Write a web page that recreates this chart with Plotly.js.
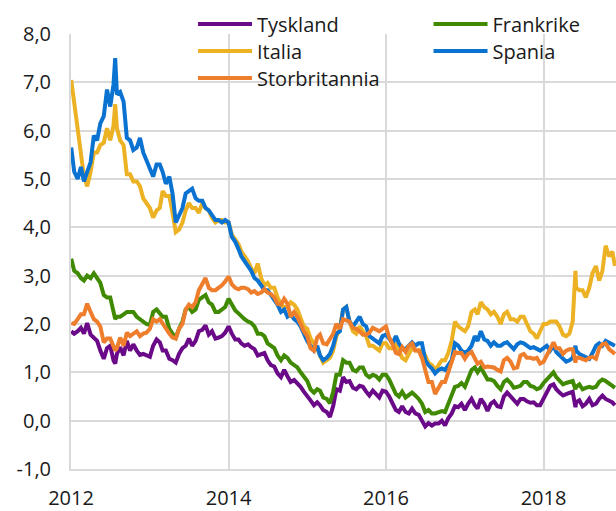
<!DOCTYPE html>
<html><head><meta charset="utf-8">
<script src="https://cdn.plot.ly/plotly-3.0.1.min.js"></script>
<style>html,body{margin:0;padding:0;background:#fff;} #chart{width:616px;height:511px;}</style>
</head><body><div id="chart"></div>
<script>
const dates = [
 '2012-01-02','2012-01-16','2012-02-01','2012-02-16','2012-03-01','2012-03-16','2012-04-01','2012-04-16','2012-05-01','2012-05-16','2012-06-01','2012-06-16','2012-07-01','2012-07-16','2012-07-24','2012-08-01','2012-08-16','2012-09-01','2012-09-16','2012-10-01','2012-10-16','2012-11-01','2012-11-16','2012-12-01','2012-12-16',
 '2013-01-01','2013-01-16','2013-02-01','2013-02-16','2013-03-01','2013-03-16','2013-04-01','2013-04-16','2013-05-01','2013-05-16','2013-06-01','2013-06-16','2013-07-01','2013-07-16','2013-08-01','2013-08-16','2013-09-01','2013-09-16','2013-10-01','2013-10-16','2013-11-01','2013-11-16','2013-12-01','2013-12-16',
 '2014-01-01','2014-01-16','2014-02-01','2014-02-16','2014-03-01','2014-03-16','2014-04-01','2014-04-16','2014-05-01','2014-05-16','2014-06-01','2014-06-16','2014-07-01','2014-07-16','2014-08-01','2014-08-16','2014-09-01','2014-09-16','2014-10-01','2014-10-16','2014-11-01','2014-11-16','2014-12-01','2014-12-16',
 '2015-01-01','2015-01-16','2015-02-01','2015-02-16','2015-03-01','2015-03-16','2015-04-01','2015-04-16','2015-05-01','2015-05-16','2015-06-01','2015-06-16','2015-07-01','2015-07-16','2015-08-01','2015-08-16','2015-09-01','2015-09-16','2015-10-01','2015-10-16','2015-11-01','2015-11-16','2015-12-01','2015-12-16',
 '2016-01-01','2016-01-16','2016-02-01','2016-02-16','2016-03-01','2016-03-16','2016-04-01','2016-04-16','2016-05-01','2016-05-16','2016-06-01','2016-06-16','2016-07-01','2016-07-16','2016-08-01','2016-08-16','2016-09-01','2016-09-16','2016-10-01','2016-10-16','2016-11-01','2016-11-16','2016-12-01','2016-12-16',
 '2017-01-01','2017-01-16','2017-02-01','2017-02-16','2017-03-01','2017-03-16','2017-04-01','2017-04-16','2017-05-01','2017-05-16','2017-06-01','2017-06-16','2017-07-01','2017-07-16','2017-08-01','2017-08-16','2017-09-01','2017-09-16','2017-10-01','2017-10-16','2017-11-01','2017-11-16','2017-12-01','2017-12-16',
 '2018-01-01','2018-01-16','2018-02-01','2018-02-16','2018-03-01','2018-03-16','2018-04-01','2018-04-16','2018-05-01','2018-05-16','2018-05-29','2018-06-01','2018-06-16','2018-07-01','2018-07-16','2018-08-01','2018-08-16','2018-09-01','2018-09-16','2018-10-01','2018-10-16','2018-11-01','2018-11-16','2018-11-28'
];

const tyskland = [
 1.85,1.80,1.85,1.92,1.80,2.02,1.78,1.70,1.65,1.45,1.28,1.50,1.55,1.25,1.18,1.38,1.52,1.35,1.65,1.45,1.58,1.45,1.36,1.38,1.35,
 1.32,1.55,1.68,1.62,1.45,1.45,1.28,1.25,1.20,1.38,1.50,1.55,1.70,1.55,1.65,1.85,1.88,1.97,1.78,1.85,1.70,1.72,1.75,1.82,
 1.95,1.80,1.68,1.68,1.60,1.55,1.58,1.52,1.48,1.35,1.38,1.40,1.25,1.15,1.12,0.98,0.90,1.05,0.92,0.80,0.84,0.78,0.70,0.60,
 0.52,0.42,0.32,0.38,0.32,0.22,0.18,0.08,0.30,0.65,0.62,0.90,0.80,0.82,0.68,0.65,0.72,0.70,0.60,0.52,0.62,0.55,0.48,0.62,
 0.60,0.50,0.35,0.22,0.18,0.30,0.18,0.15,0.25,0.15,0.12,0.00,-0.12,-0.05,-0.10,-0.06,-0.06,0.00,-0.10,0.05,0.15,0.30,0.28,0.35,
 0.22,0.35,0.45,0.32,0.25,0.45,0.35,0.20,0.35,0.40,0.30,0.28,0.50,0.58,0.50,0.42,0.35,0.45,0.45,0.40,0.37,0.38,0.32,0.32,
 0.45,0.58,0.72,0.75,0.65,0.58,0.52,0.55,0.58,0.60,0.28,0.38,0.42,0.30,0.35,0.45,0.32,0.35,0.45,0.52,0.45,0.42,0.38,0.32
];
const frankrike = [
 3.35,3.10,3.05,2.95,2.90,3.00,2.95,3.05,2.95,2.85,2.60,2.55,2.55,2.20,2.10,2.15,2.15,2.20,2.25,2.25,2.25,2.15,2.10,2.05,2.00,
 1.98,2.25,2.30,2.20,2.15,2.15,1.90,1.80,1.72,1.90,2.05,2.30,2.35,2.25,2.30,2.50,2.55,2.60,2.45,2.40,2.25,2.25,2.30,2.35,
 2.52,2.40,2.28,2.22,2.15,2.10,2.05,2.02,1.95,1.80,1.80,1.75,1.60,1.55,1.50,1.35,1.25,1.35,1.30,1.20,1.15,1.10,1.00,0.92,
 0.82,0.65,0.58,0.65,0.62,0.48,0.45,0.36,0.60,0.95,0.95,1.25,1.20,1.20,1.05,1.02,1.10,1.10,0.95,0.90,0.95,0.92,0.85,0.95,
 0.95,0.85,0.68,0.55,0.50,0.60,0.48,0.52,0.58,0.52,0.45,0.35,0.18,0.22,0.15,0.15,0.18,0.20,0.18,0.35,0.48,0.70,0.72,0.78,
 0.70,0.88,1.05,1.10,1.00,1.10,0.95,0.85,0.85,0.82,0.72,0.65,0.80,0.85,0.78,0.68,0.70,0.72,0.80,0.80,0.72,0.70,0.65,0.68,
 0.78,0.85,0.95,1.00,0.90,0.82,0.75,0.78,0.80,0.82,0.65,0.70,0.75,0.65,0.68,0.70,0.68,0.70,0.80,0.85,0.82,0.78,0.72,0.68
];
const italia = [
 7.05,6.55,5.95,5.55,5.05,4.85,5.15,5.55,5.55,5.70,5.75,6.05,5.80,6.10,6.55,6.05,5.80,5.70,5.10,5.10,4.95,4.95,4.85,4.60,4.50,
 4.40,4.20,4.35,4.40,4.75,4.65,4.65,4.30,3.90,3.95,4.10,4.35,4.50,4.40,4.40,4.30,4.50,4.40,4.35,4.20,4.10,4.15,4.15,4.10,
 4.10,3.85,3.75,3.65,3.50,3.40,3.30,3.15,3.05,3.25,2.95,2.80,2.85,2.75,2.75,2.55,2.40,2.35,2.35,2.45,2.40,2.30,2.10,1.95,
 1.90,1.70,1.60,1.50,1.35,1.20,1.25,1.30,1.45,1.75,1.90,2.30,2.35,2.05,1.85,1.80,1.95,1.85,1.75,1.55,1.55,1.50,1.45,1.60,
 1.60,1.50,1.50,1.60,1.45,1.30,1.25,1.40,1.50,1.45,1.45,1.45,1.35,1.20,1.15,1.05,1.15,1.25,1.25,1.40,1.65,2.05,1.95,1.90,
 1.85,1.95,2.25,2.30,2.20,2.45,2.35,2.30,2.20,2.25,2.15,2.00,2.20,2.25,2.10,2.10,2.05,2.15,2.15,2.00,1.85,1.80,1.70,1.85,
 2.00,2.00,2.05,2.05,2.05,1.95,1.78,1.75,1.80,2.05,3.10,2.75,2.70,2.70,2.55,2.75,3.05,3.20,2.90,3.10,3.62,3.40,3.50,3.20
];
const spania = [
 5.65,5.15,5.00,5.25,4.95,5.15,5.35,5.90,5.80,6.15,6.30,6.85,6.50,6.95,7.50,6.75,6.80,6.60,5.85,5.80,5.60,5.65,5.85,5.55,5.40,
 5.25,5.05,5.30,5.30,5.15,4.90,5.05,4.70,4.10,4.25,4.40,4.70,4.75,4.80,4.60,4.55,4.55,4.40,4.35,4.25,4.15,4.15,4.10,4.15,
 4.10,3.80,3.70,3.55,3.40,3.30,3.20,3.10,2.95,2.90,2.80,2.70,2.70,2.60,2.50,2.40,2.25,2.30,2.15,2.20,2.10,2.05,1.95,1.80,
 1.65,1.55,1.45,1.55,1.35,1.25,1.30,1.38,1.55,1.80,1.85,2.30,2.35,2.05,1.95,2.05,2.15,2.00,1.95,1.75,1.70,1.65,1.60,1.75,
 1.78,1.70,1.60,1.75,1.60,1.50,1.48,1.55,1.62,1.55,1.60,1.60,1.25,1.15,1.08,0.98,1.05,1.08,1.05,1.15,1.25,1.60,1.55,1.45,
 1.40,1.45,1.55,1.75,1.65,1.85,1.68,1.65,1.55,1.62,1.55,1.55,1.60,1.62,1.55,1.48,1.58,1.62,1.60,1.55,1.50,1.52,1.48,1.45,
 1.50,1.55,1.45,1.55,1.42,1.35,1.28,1.22,1.25,1.30,1.55,1.45,1.38,1.35,1.30,1.28,1.40,1.55,1.60,1.55,1.65,1.62,1.58,1.55
];
const storbritannia = [
 2.02,2.00,2.10,2.20,2.20,2.42,2.25,2.10,2.05,1.95,1.62,1.70,1.70,1.52,1.45,1.50,1.72,1.55,1.82,1.75,1.80,1.85,1.75,1.80,1.82,
 1.90,2.10,2.05,2.10,2.00,1.92,1.80,1.72,1.70,1.90,2.00,2.30,2.40,2.35,2.45,2.70,2.85,2.95,2.75,2.70,2.70,2.75,2.80,2.88,
 2.98,2.82,2.75,2.72,2.75,2.75,2.72,2.65,2.68,2.62,2.65,2.72,2.65,2.62,2.55,2.42,2.40,2.52,2.42,2.15,2.25,2.15,2.00,1.85,
 1.75,1.50,1.45,1.72,1.78,1.60,1.58,1.68,1.80,2.00,1.90,2.10,2.08,2.05,1.92,1.90,1.85,1.78,1.78,1.82,1.92,1.88,1.85,1.90,
 1.95,1.72,1.58,1.40,1.38,1.52,1.42,1.55,1.60,1.45,1.45,1.30,1.05,0.80,0.80,0.55,0.68,0.80,0.80,1.02,1.25,1.42,1.40,1.40,
 1.28,1.38,1.42,1.28,1.18,1.22,1.10,1.12,1.10,1.10,1.05,1.02,1.25,1.30,1.22,1.08,1.10,1.35,1.38,1.30,1.30,1.28,1.30,1.18,
 1.22,1.35,1.50,1.62,1.50,1.50,1.38,1.45,1.48,1.48,1.20,1.30,1.30,1.28,1.25,1.30,1.32,1.28,1.50,1.58,1.60,1.48,1.42,1.38
];

const seriesNames = ['Tyskland','Frankrike','Italia','Spania','Storbritannia'];
const seriesValues = [tyskland, frankrike, italia, spania, storbritannia];
const seriesColors = ['#6a0a88','#3f8a00','#ecb224','#0a72d0','#ee7d2c'];

const yTickVals = [-1,0,1,2,3,4,5,6,7,8];
const yTickText = ['-1,0','0,0','1,0','2,0','3,0','4,0','5,0','6,0','7,0','8,0'];
const xTickVals = ['2012-01-01','2014-01-01','2016-01-01','2018-01-01'];
const xTickText = ['2012','2014','2016','2018'];

// legend layout: one legend box per entry, in a two-column grid
const legendIds = ['legend','legend2','legend3','legend4','legend5'];
const legendCol = [0, 1, 0, 1, 0];
const legendRow = [0, 0, 1, 1, 2];
const colX = [0.2239, 0.6560];
const rowY = [1.0230, 0.9609, 0.8988];

const traces = seriesNames.map((name, i) => ({
  type: 'scatter', mode: 'lines', name: name,
  x: dates, y: seriesValues[i],
  line: {color: seriesColors[i], width: 4},
  legend: legendIds[i],
  hoverinfo: 'skip'
}));

const gridColor = '#d9d9d9';
const layout = {
  width: 616, height: 511,
  margin: {l: 71, r: 0, t: 34, b: 42, pad: 0},
  paper_bgcolor: '#ffffff', plot_bgcolor: '#ffffff',
  font: {family: '"Open Sans", "Noto Sans", sans-serif', size: 20, color: '#1a1a1a'},
  showlegend: true,
  xaxis: {
    type: 'date', range: ['2012-01-01', '2018-12-03'],
    tickmode: 'array', tickvals: xTickVals, ticktext: xTickText,
    showgrid: true, gridcolor: gridColor, gridwidth: 2,
    showline: true, linecolor: gridColor, linewidth: 2,
    ticks: 'outside', ticklen: 10, tickcolor: 'rgba(0,0,0,0)',
    tickfont: {size: 20},
    zeroline: false, automargin: false, fixedrange: true
  },
  yaxis: {
    range: [-1, 8],
    tickmode: 'array', tickvals: yTickVals, ticktext: yTickText,
    showgrid: true, gridcolor: gridColor, gridwidth: 2,
    showline: true, linecolor: gridColor, linewidth: 2,
    ticks: 'outside', ticklen: 14, tickcolor: 'rgba(0,0,0,0)',
    tickfont: {size: 20},
    zeroline: false, automargin: false, fixedrange: true
  }
};
legendIds.forEach((id, i) => {
  layout[id] = {
    orientation: 'v', x: colX[legendCol[i]], xanchor: 'left',
    y: rowY[legendRow[i]], yanchor: 'middle',
    itemwidth: 54, bgcolor: 'rgba(0,0,0,0)', borderwidth: 0,
    font: {size: 20, color: '#1a1a1a'}
  };
});

Plotly.newPlot('chart', traces, layout, {staticPlot: true, displayModeBar: false});
</script>
</body></html>
